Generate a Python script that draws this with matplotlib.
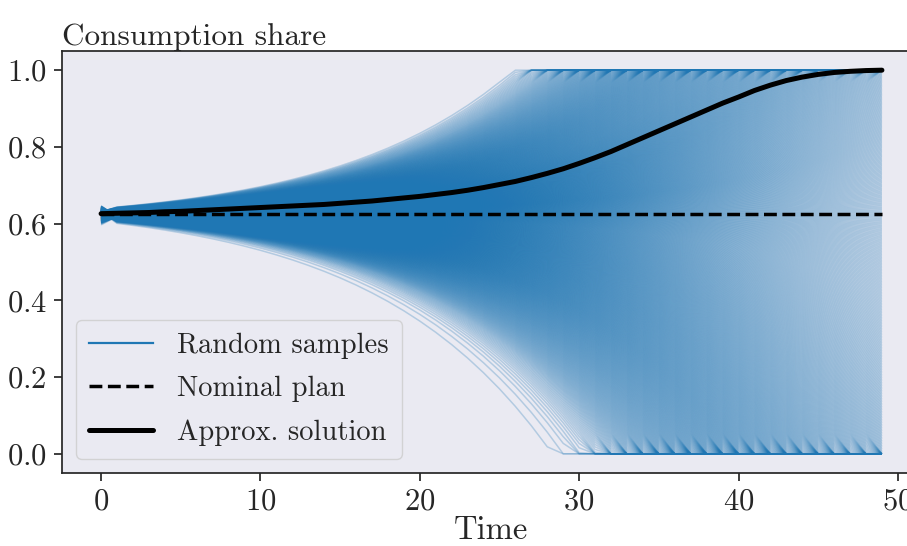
import numpy as np
import matplotlib
matplotlib.use("Agg")
import matplotlib.pyplot as plt
from matplotlib.collections import LineCollection

# ---- data -------------------------------------------------------------
time_steps = np.arange(50)
nominal_share = 0.625

# approximate optimal consumption share at each time step
approx_solution = [
    0.626, 0.627, 0.628, 0.629, 0.631, 0.632, 0.634, 0.636, 0.638, 0.640,
    0.642, 0.644, 0.646, 0.648, 0.650, 0.653, 0.656, 0.659, 0.663, 0.667,
    0.671, 0.676, 0.681, 0.687, 0.694, 0.702, 0.710, 0.720, 0.731, 0.743,
    0.757, 0.772, 0.788, 0.806, 0.824, 0.842, 0.860, 0.878, 0.896, 0.914,
    0.930, 0.947, 0.961, 0.973, 0.982, 0.989, 0.994, 0.997, 0.999, 1.000,
]

# histogram of the sampled drift coefficients (bin edges and path counts)
drift_bin_edges = [-0.055, -0.050, -0.045, -0.040, -0.035, -0.030, -0.025,
                   -0.020, -0.015, -0.010, -0.005, 0.000, 0.005, 0.010,
                   0.015, 0.020, 0.025, 0.030, 0.035, 0.040]
drift_bin_counts = [1, 2, 6, 14, 28, 42, 58, 76, 88, 96,
                    100, 125, 112, 88, 72, 52, 34, 18, 8]
growth_rate = 0.09      # exponential divergence rate of sample paths
growth_offset = 0.62    # offset of the divergence profile
start_spread = 0.55     # spread of the initial draws

# ---- build sample paths ------------------------------------------------
edges = np.array(drift_bin_edges)
counts = np.array(drift_bin_counts, dtype=float)
centers = 0.5 * (edges[:-1] + edges[1:])
# smooth the histogram into a piecewise-linear density and invert its CDF
grid = np.linspace(edges[0], edges[-1], 4001)
dens = np.interp(grid, np.r_[edges[0], centers, edges[-1]],
                 np.r_[0.0, counts, 0.0])
cdf = np.concatenate([[0.0], np.cumsum(0.5 * (dens[1:] + dens[:-1]))])
cdf /= cdf[-1]
n_paths = int(counts.sum())
coefs = np.interp((np.arange(n_paths) + 0.5) / n_paths, cdf, grid)

profile = np.exp(growth_rate * time_steps) - growth_offset
paths = nominal_share + coefs[:, None] * profile[None, :]
paths[:, 0] = nominal_share + start_spread * np.roll(coefs, n_paths // 4)
paths = np.clip(paths, 0.0, 1.0)

# ---- style -------------------------------------------------------------
text_color = "#262626"
plt.rcParams.update({
    "font.family": "cmr10",
    "axes.formatter.use_mathtext": True,
    "mathtext.fontset": "cm",
    "text.color": text_color,
    "axes.labelcolor": text_color,
    "xtick.color": text_color,
    "ytick.color": text_color,
})

fig = plt.figure(figsize=(9.07, 5.46), dpi=100)
ax = fig.add_axes([0.0684, 0.1337, 0.947, 0.7729])
ax.set_facecolor("#EAEAF2")
for side in ax.spines.values():
    side.set_color(text_color)
    side.set_linewidth(1.25)

segs = [np.column_stack([time_steps, p]) for p in paths]
lc = LineCollection(segs, colors="#1f77b4", alpha=0.27, linewidths=1.1)
ax.add_collection(lc)
ax.plot([], [], color="#1f77b4", lw=1.6, label="Random samples")

ax.plot(time_steps, np.full(len(time_steps), nominal_share), "--",
        color="black", lw=2.5, label="Nominal plan")
ax.plot(time_steps, approx_solution, "-", color="black", lw=3.6,
        solid_capstyle="round", label="Approx. solution")

ax.set_xlim(-2.45, 51.45)
ax.set_ylim(-0.05, 1.05)
ax.set_xticks([0, 10, 20, 30, 40, 50])
ax.set_yticks([0.0, 0.2, 0.4, 0.6, 0.8, 1.0])
ax.tick_params(direction="out", length=6, width=1.25, labelsize=22, pad=5)
ax.set_xlabel("Time", fontsize=23.5, labelpad=0)
ax.set_title("Consumption share", loc="left", fontsize=22.5, pad=3)

leg = ax.legend(loc="lower left", fontsize=20.5, frameon=True,
                facecolor="#EAEAF2", edgecolor="#CCCCCC", framealpha=0.8,
                handlelength=2.25, handletextpad=0.85, borderpad=0.45,
                labelspacing=0.6)
leg.get_frame().set_linewidth(1.0)

fig.savefig("out.png", dpi=100)
